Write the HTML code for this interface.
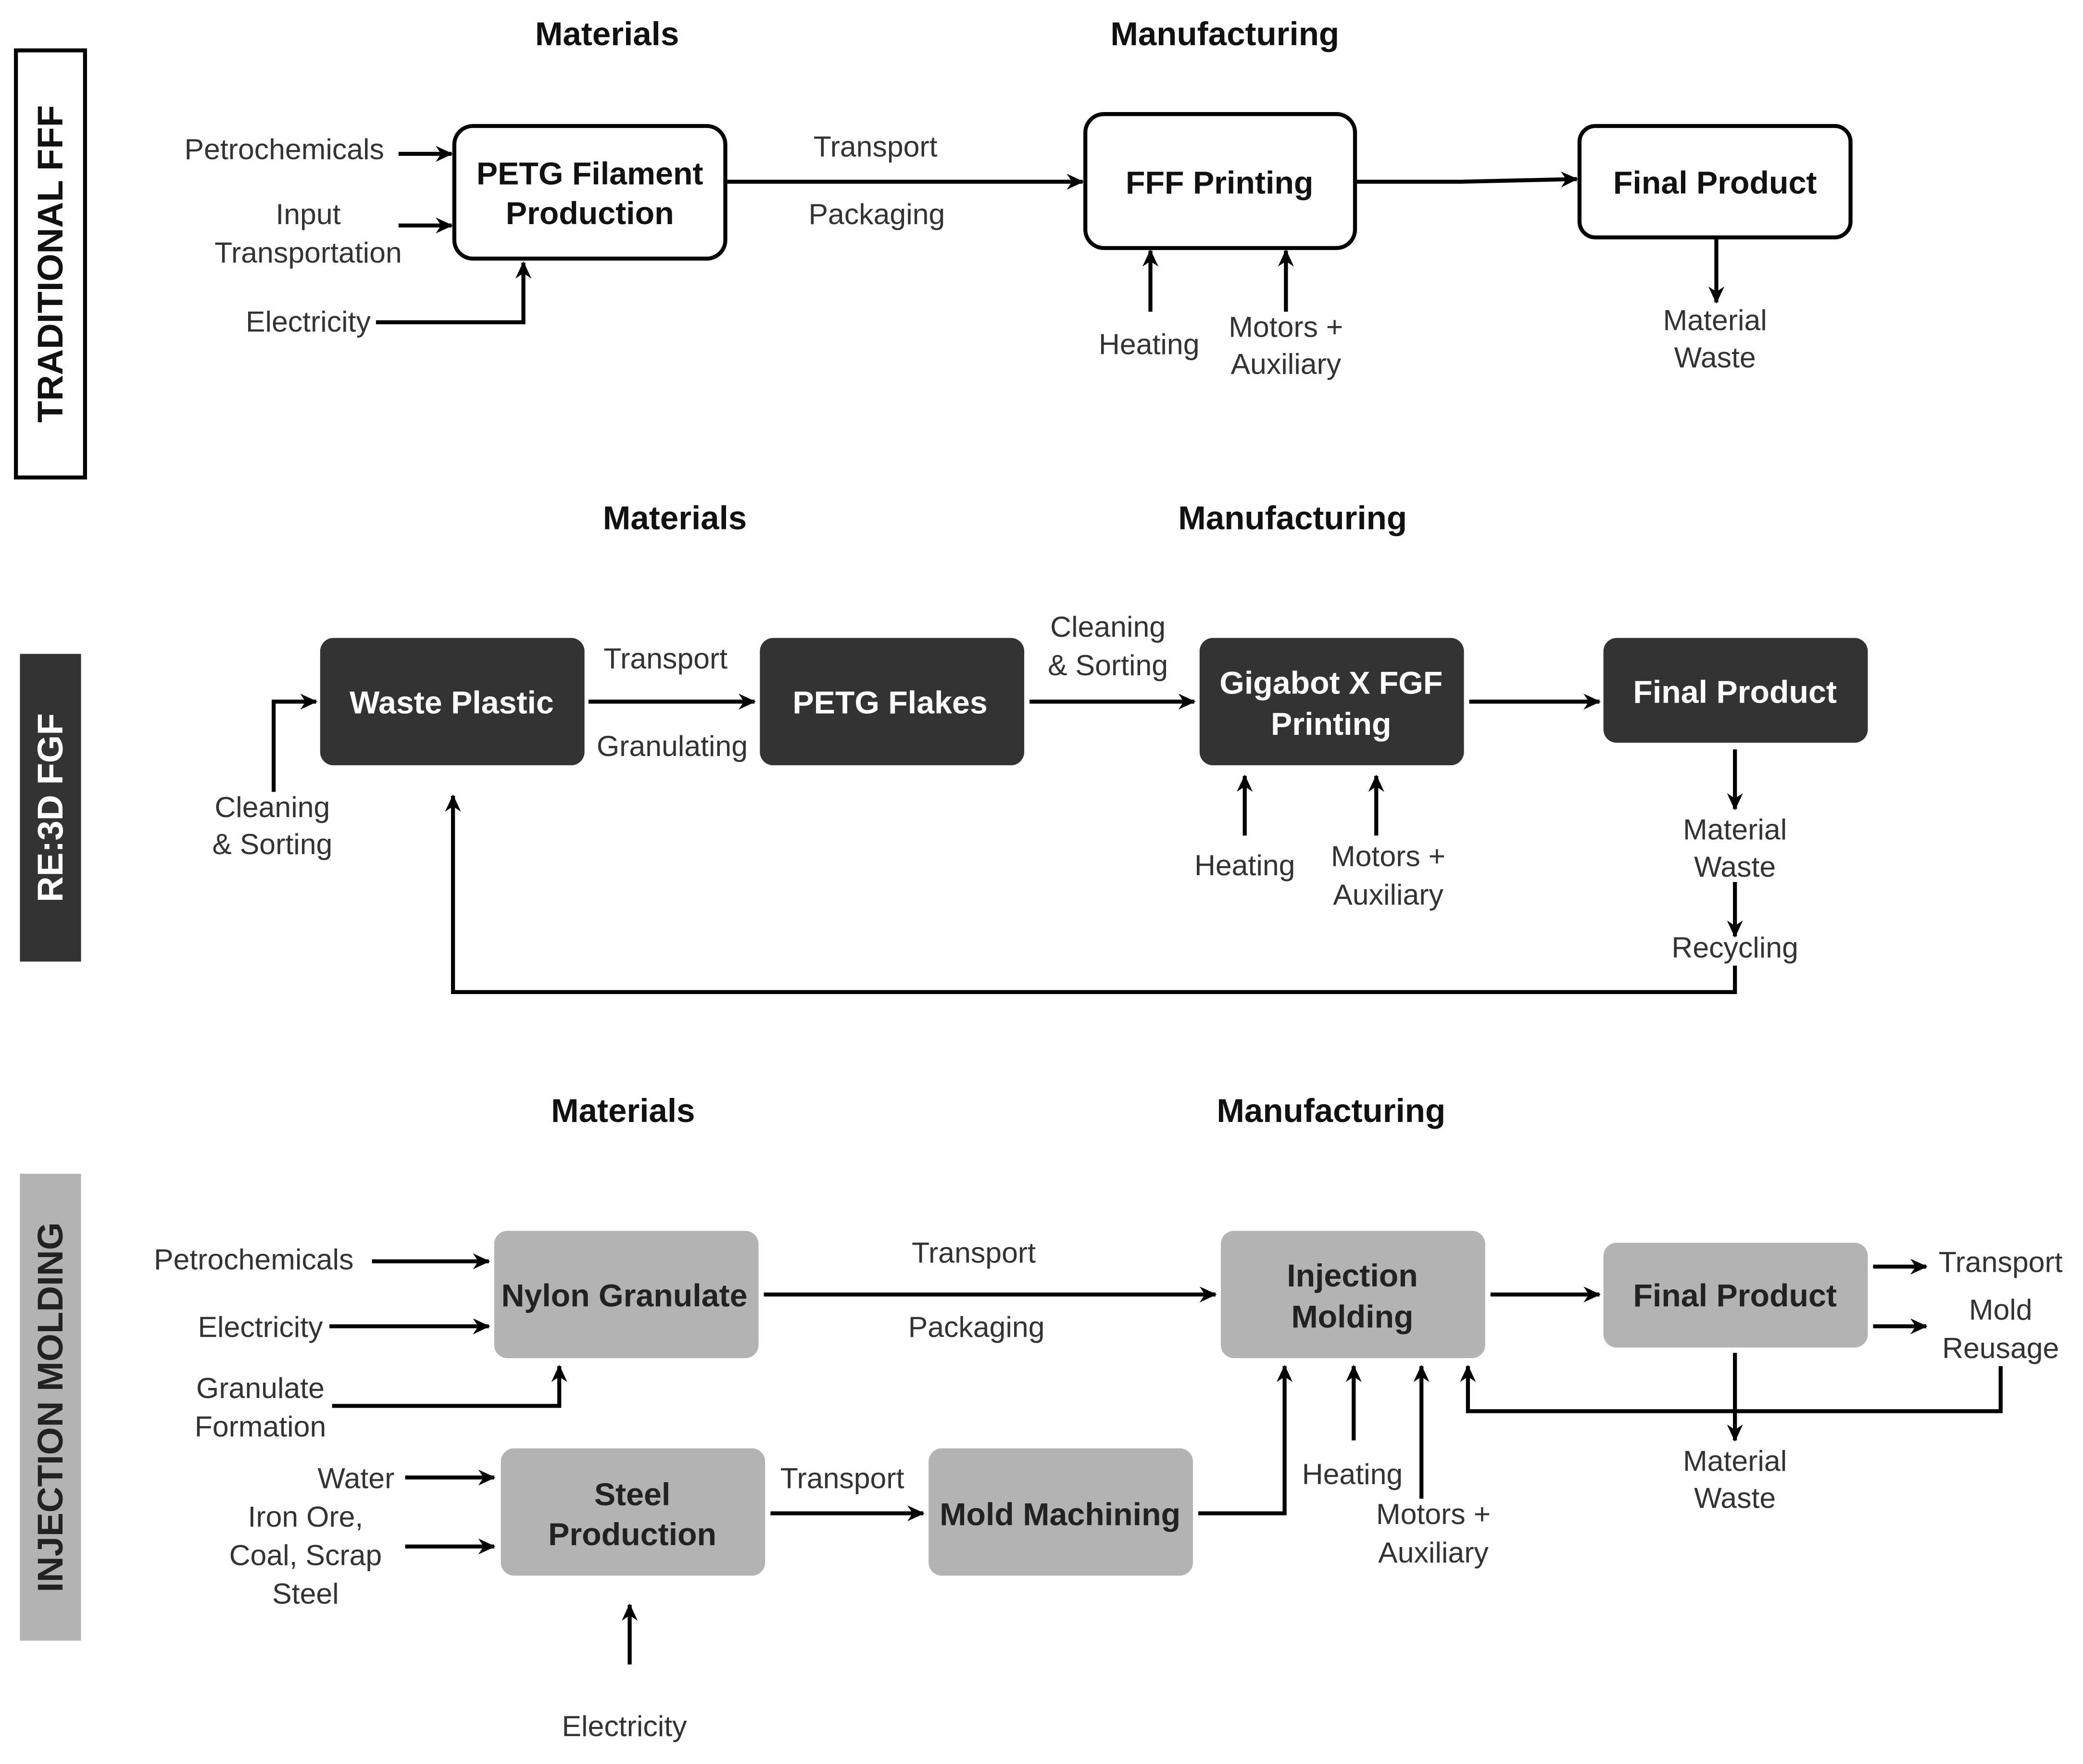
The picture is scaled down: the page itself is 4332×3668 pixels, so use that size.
<!DOCTYPE html>
<html><head><meta charset="utf-8"><style>
html,body{margin:0;padding:0;background:#fff;}
svg{display:block;}
text{font-family:"Liberation Sans",Arial,sans-serif;}
.t{font-size:22px;fill:#333;text-anchor:middle;}
.h{font-size:25px;font-weight:bold;fill:#111;text-anchor:middle;}
.b{font-size:24px;font-weight:bold;fill:#111;text-anchor:middle;}
.w{font-size:24px;font-weight:bold;fill:#fff;text-anchor:middle;}
.l{stroke:#000;stroke-width:3;fill:none;}
</style></head><body>
<svg width="4332" height="3668" viewBox="0 0 1568 1330" preserveAspectRatio="none" xmlns="http://www.w3.org/2000/svg">
<defs><marker id="a" markerWidth="13" markerHeight="12" refX="12" refY="6" orient="auto" markerUnits="userSpaceOnUse"><path d="M0,0 L13,6 L0,12 L4,6 z" fill="#000"/></marker></defs>
<rect width="1568" height="1330" fill="#fff"/>

<!-- Section 1 -->
<rect x="12" y="38" width="52" height="322" fill="#fff" stroke="#000" stroke-width="3"/>
<text class="b" transform="translate(47,199) rotate(-90)" style="font-size:27px">TRADITIONAL FFF</text>
<text class="h" x="457" y="34">Materials</text>
<text class="h" x="922" y="34">Manufacturing</text>
<rect x="342" y="95" width="204" height="100" rx="14" fill="#fff" stroke="#000" stroke-width="3"/>
<text class="b" x="444" y="139">PETG Filament</text>
<text class="b" x="444" y="169">Production</text>
<text class="t" x="214" y="120">Petrochemicals</text>
<line class="l" x1="300" y1="116" x2="340" y2="116" marker-end="url(#a)"/>
<text class="t" x="232" y="169">Input</text>
<text class="t" x="232" y="198">Transportation</text>
<line class="l" x1="300" y1="170" x2="340" y2="170" marker-end="url(#a)"/>
<text class="t" x="232" y="250">Electricity</text>
<polyline class="l" points="283,243 394,243 394,198" marker-end="url(#a)"/>
<line class="l" x1="546" y1="137" x2="815" y2="137" marker-end="url(#a)"/>
<text class="t" x="659" y="118">Transport</text>
<text class="t" x="660" y="169">Packaging</text>
<rect x="817" y="86" width="203" height="101" rx="14" fill="#fff" stroke="#000" stroke-width="3"/>
<text class="b" x="918" y="146">FFF Printing</text>
<line class="l" x1="866" y1="235" x2="866" y2="189" marker-end="url(#a)"/>
<line class="l" x1="968" y1="235" x2="968" y2="189" marker-end="url(#a)"/>
<text class="t" x="865" y="267">Heating</text>
<text class="t" x="968" y="254">Motors +</text>
<text class="t" x="968" y="282">Auxiliary</text>
<polyline class="l" points="1020,137 1100,137 1187,135" marker-end="url(#a)"/>
<rect x="1189" y="95" width="204" height="84" rx="12" fill="#fff" stroke="#000" stroke-width="3"/>
<text class="b" x="1291" y="146">Final Product</text>
<line class="l" x1="1292" y1="180" x2="1292" y2="228" marker-end="url(#a)"/>
<text class="t" x="1291" y="249">Material</text>
<text class="t" x="1291" y="277">Waste</text>

<!-- Section 2 -->
<rect x="15" y="493" width="46" height="232" fill="#333"/>
<text class="w" transform="translate(47,609) rotate(-90)" style="font-size:27px">RE:3D FGF</text>
<text class="h" x="508" y="399">Materials</text>
<text class="h" x="973" y="399">Manufacturing</text>
<rect x="241" y="481" width="199" height="96" rx="10" fill="#333"/>
<text class="w" x="340" y="538">Waste Plastic</text>
<line class="l" x1="443" y1="529" x2="568" y2="529" marker-end="url(#a)"/>
<text class="t" x="501" y="504">Transport</text>
<text class="t" x="506" y="570">Granulating</text>
<rect x="572" y="481" width="199" height="96" rx="10" fill="#333"/>
<text class="w" x="670" y="538">PETG Flakes</text>
<line class="l" x1="775" y1="529" x2="899" y2="529" marker-end="url(#a)"/>
<text class="t" x="834" y="480">Cleaning</text>
<text class="t" x="834" y="509">&amp; Sorting</text>
<rect x="903" y="481" width="199" height="96" rx="10" fill="#333"/>
<text class="w" x="1002" y="523">Gigabot X FGF</text>
<text class="w" x="1002" y="554">Printing</text>
<line class="l" x1="1106" y1="529" x2="1204" y2="529" marker-end="url(#a)"/>
<rect x="1207" y="481" width="199" height="79" rx="10" fill="#333"/>
<text class="w" x="1306" y="530">Final Product</text>
<line class="l" x1="937" y1="630" x2="937" y2="585" marker-end="url(#a)"/>
<line class="l" x1="1036" y1="630" x2="1036" y2="585" marker-end="url(#a)"/>
<text class="t" x="937" y="660">Heating</text>
<text class="t" x="1045" y="653">Motors +</text>
<text class="t" x="1045" y="682">Auxiliary</text>
<line class="l" x1="1306" y1="565" x2="1306" y2="610" marker-end="url(#a)"/>
<text class="t" x="1306" y="633">Material</text>
<text class="t" x="1306" y="661">Waste</text>
<line class="l" x1="1306" y1="665" x2="1306" y2="706" marker-end="url(#a)"/>
<text class="t" x="1306" y="722">Recycling</text>
<polyline class="l" points="1306,728 1306,748 341,748 341,600" marker-end="url(#a)"/>
<polyline class="l" points="206,597 206,529 238,529" marker-end="url(#a)"/>
<text class="t" x="205" y="616">Cleaning</text>
<text class="t" x="205" y="644">&amp; Sorting</text>

<!-- Section 3 -->
<rect x="15" y="885" width="46" height="352" fill="#b3b3b3"/>
<text class="b" transform="translate(47,1061) rotate(-90)" style="font-size:27px;fill:#222">INJECTION MOLDING</text>
<text class="h" x="469" y="846">Materials</text>
<text class="h" x="1002" y="846">Manufacturing</text>
<rect x="372" y="928" width="199" height="96" rx="10" fill="#b3b3b3"/>
<text class="b" x="470" y="985" style="fill:#222">Nylon Granulate</text>
<text class="t" x="191" y="957">Petrochemicals</text>
<line class="l" x1="280" y1="951" x2="368" y2="951" marker-end="url(#a)"/>
<text class="t" x="196" y="1008">Electricity</text>
<line class="l" x1="248" y1="1000" x2="368" y2="1000" marker-end="url(#a)"/>
<text class="t" x="196" y="1054">Granulate</text>
<text class="t" x="196" y="1083">Formation</text>
<polyline class="l" points="250,1060 421,1060 421,1030" marker-end="url(#a)"/>
<line class="l" x1="575" y1="976" x2="915" y2="976" marker-end="url(#a)"/>
<text class="t" x="733" y="952">Transport</text>
<text class="t" x="735" y="1008">Packaging</text>
<rect x="919" y="928" width="199" height="96" rx="10" fill="#b3b3b3"/>
<text class="b" x="1018" y="970" style="fill:#222">Injection</text>
<text class="b" x="1018" y="1001" style="fill:#222">Molding</text>
<line class="l" x1="1122" y1="976" x2="1204" y2="976" marker-end="url(#a)"/>
<rect x="1207" y="937" width="199" height="79" rx="10" fill="#b3b3b3"/>
<text class="b" x="1306" y="985" style="fill:#222">Final Product</text>
<line class="l" x1="1410" y1="955" x2="1450" y2="955" marker-end="url(#a)"/>
<line class="l" x1="1410" y1="1000" x2="1450" y2="1000" marker-end="url(#a)"/>
<text class="t" x="1506" y="959">Transport</text>
<text class="t" x="1506" y="995">Mold</text>
<text class="t" x="1506" y="1024">Reusage</text>
<polyline class="l" points="1506,1030 1506,1064 1105,1064 1105,1030" marker-end="url(#a)"/>
<line class="l" x1="1306" y1="1020" x2="1306" y2="1086" marker-end="url(#a)"/>
<text class="t" x="1306" y="1109">Material</text>
<text class="t" x="1306" y="1137">Waste</text>
<rect x="377" y="1092" width="199" height="96" rx="10" fill="#b3b3b3"/>
<text class="b" x="476" y="1135" style="fill:#222">Steel</text>
<text class="b" x="476" y="1165" style="fill:#222">Production</text>
<text class="t" x="268" y="1122">Water</text>
<line class="l" x1="305" y1="1114" x2="372" y2="1114" marker-end="url(#a)"/>
<text class="t" x="230" y="1151">Iron Ore,</text>
<text class="t" x="230" y="1180">Coal, Scrap</text>
<text class="t" x="230" y="1209">Steel</text>
<line class="l" x1="305" y1="1166" x2="372" y2="1166" marker-end="url(#a)"/>
<line class="l" x1="474" y1="1255" x2="474" y2="1210" marker-end="url(#a)"/>
<text class="t" x="470" y="1309">Electricity</text>
<line class="l" x1="580" y1="1141" x2="695" y2="1141" marker-end="url(#a)"/>
<text class="t" x="634" y="1122">Transport</text>
<rect x="699" y="1092" width="199" height="96" rx="10" fill="#b3b3b3"/>
<text class="b" x="798" y="1150" style="fill:#222">Mold Machining</text>
<polyline class="l" points="902,1141 967,1141 967,1030" marker-end="url(#a)"/>
<line class="l" x1="1019" y1="1086" x2="1019" y2="1030" marker-end="url(#a)"/>
<line class="l" x1="1070" y1="1130" x2="1070" y2="1030" marker-end="url(#a)"/>
<text class="t" x="1018" y="1119">Heating</text>
<text class="t" x="1079" y="1149">Motors +</text>
<text class="t" x="1079" y="1178">Auxiliary</text>
</svg>
</body></html>
